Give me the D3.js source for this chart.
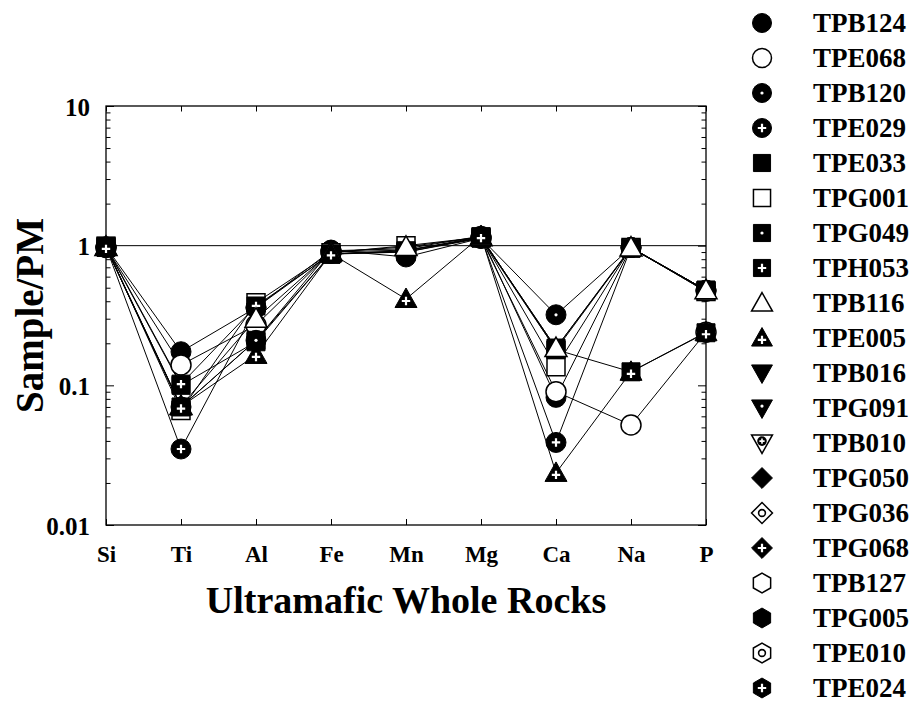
<!DOCTYPE html>
<html>
<head>
<meta charset="utf-8">
<script src="https://cdn.jsdelivr.net/npm/d3@7"></script>
<style>
  html, body { margin: 0; padding: 0; background: #fff; }
  svg { display: block; }
</style>
</head>
<body>
<svg id="chart" width="922" height="724"></svg>
<script>
// Primitive-mantle-normalised major elements
const elements = ["Si", "Ti", "Al", "Fe", "Mn", "Mg", "Ca", "Na", "P"];
const yTickValues = [0.01, 0.1, 1, 10];
const yTickLabels = ["0.01", "0.1", "1", "10"];

// Samples with analyses (values in element order above)
const TPB124 = [0.98, 0.174, 0.36, 0.92, 0.95, 1.17, 0.082, 0.97, 0.48];
const TPE068 = [0.97, 0.140, 0.27, 0.90, 0.93, 1.13, 0.090, 0.052, 0.24];
const TPB120 = [0.97, 0.070, 0.21, 0.93, 0.83, 1.13, 0.32, 0.97, 0.48];
const TPE029 = [0.98, 0.035, 0.36, 0.88, 0.90, 1.15, 0.039, 0.97, 0.47];
const TPE033 = [0.98, 0.100, 0.205, 0.87, 0.92, 1.14, 0.185, 0.96, 0.48];
const TPG001 = [0.99, 0.066, 0.39, 0.89, 1.00, 1.15, 0.136, 0.97, 0.47];
const TPG049 = [0.97, 0.070, 0.21, 0.87, 0.90, 1.13, 0.18, 0.96, 0.48];
const TPH053 = [0.99, 0.102, 0.37, 0.87, 0.92, 1.16, 0.18, 0.125, 0.238];
const TPB116 = [0.98, 0.071, 0.30, 0.90, 0.98, 1.15, 0.185, 0.97, 0.48];
const TPE005 = [0.98, 0.0705, 0.165, 0.88, 0.415, 1.17, 0.0236, 0.125, 0.24];

const plotted = [
  ["TPB124", TPB124], ["TPE068", TPE068], ["TPB120", TPB120], ["TPE029", TPE029],
  ["TPE033", TPE033], ["TPG001", TPG001], ["TPG049", TPG049], ["TPH053", TPH053],
  ["TPB116", TPB116], ["TPE005", TPE005]
];

// Full sample key
const legendNames = [
  "TPB124", "TPE068", "TPB120", "TPE029", "TPE033", "TPG001", "TPG049", "TPH053",
  "TPB116", "TPE005", "TPB016", "TPG091", "TPB010", "TPG050", "TPG036", "TPG068",
  "TPB127", "TPG005", "TPE010", "TPE024"
];

// Marker style per sample: [shape, fill style]
const markerStyle = {
  TPB124: ["circle", "solid"], TPE068: ["circle", "open"], TPB120: ["circle", "dot"], TPE029: ["circle", "plus"],
  TPE033: ["square", "solid"], TPG001: ["square", "open"], TPG049: ["square", "dot"], TPH053: ["square", "plus"],
  TPB116: ["triUp", "open"], TPE005: ["triUp", "plus"],
  TPB016: ["triDown", "solid"], TPG091: ["triDown", "dot"], TPB010: ["triDown", "ringplus"],
  TPG050: ["diamond", "solid"], TPG036: ["diamond", "ring"], TPG068: ["diamond", "plus"],
  TPB127: ["hexagon", "open"], TPG005: ["hexagon", "solid"], TPE010: ["hexagon", "ring"], TPE024: ["hexagon", "plus"]
};

const FONT = "'Liberation Serif', 'Times New Roman', serif";
const svg = d3.select("#chart");
const L = 106, R = 706, T = 106, B = 525;

const x = d3.scalePoint().domain(elements).range([L, R]);
const y = d3.scaleLog().domain([0.01, 10]).range([B, T]);

// Outline path for each marker shape, centred on 0,0
function shapePath(shape, k) {
  switch (shape) {
    case "circle": {
      const r = 10 * k;
      return `M${r},0A${r},${r} 0 1,1 ${-r},0A${r},${r} 0 1,1 ${r},0Z`;
    }
    case "square": {
      const h = 9 * k;
      return `M${-h},${-h}H${h}V${h}H${-h}Z`;
    }
    case "triUp":
      return `M0,${-11 * k}L${11 * k},${8.5 * k}L${-11 * k},${8.5 * k}Z`;
    case "triDown":
      return `M${-11 * k},${-8.5 * k}L${11 * k},${-8.5 * k}L0,${11 * k}Z`;
    case "diamond":
      return `M0,${-11 * k}L${11 * k},0L0,${11 * k}L${-11 * k},0Z`;
    case "hexagon": {
      const r = 10.5 * k;
      const pts = d3.range(6).map(i => {
        const a = (-90 + 60 * i) * Math.PI / 180;
        return [r * Math.cos(a), r * Math.sin(a)];
      });
      return "M" + pts.map(p => p.join(",")).join("L") + "Z";
    }
  }
}

// Offset of the inner mark (centroid of triangles sits off-centre)
function innerOffset(shape, k) {
  if (shape === "triUp") return 2 * k;
  if (shape === "triDown") return -2 * k;
  return 0;
}

function drawMarker(g, name, cx, cy, k) {
  const [shape, fill] = markerStyle[name];
  const m = g.append("g").attr("transform", `translate(${cx},${cy})`);
  const open = (fill === "open" || fill === "ring" || fill === "ringplus");
  m.append("path")
    .attr("d", shapePath(shape, k))
    .attr("fill", open ? "#fff" : "#000")
    .attr("stroke", "#000")
    .attr("stroke-width", open ? 1.5 : 1)
    .attr("stroke-linejoin", "miter");
  const oy = innerOffset(shape, k);
  if (fill === "dot") {
    m.append("circle").attr("cx", 0).attr("cy", oy).attr("r", 1.6).attr("fill", "#fff");
  } else if (fill === "plus") {
    const a = 4.2;
    m.append("path")
      .attr("d", `M${-a},${oy}H${a}M0,${oy - a}V${oy + a}`)
      .attr("stroke", "#fff").attr("stroke-width", 2.2).attr("fill", "none");
  } else if (fill === "ring") {
    m.append("circle").attr("cx", 0).attr("cy", oy).attr("r", 3.4)
      .attr("fill", "#fff").attr("stroke", "#000").attr("stroke-width", 1.6);
  } else if (fill === "ringplus") {
    m.append("circle").attr("cx", 0).attr("cy", oy).attr("r", 4.8).attr("fill", "#000");
    m.append("path")
      .attr("d", `M-2.6,${oy}H2.6M0,${oy - 2.6}V${oy + 2.6}`)
      .attr("stroke", "#fff").attr("stroke-width", 1.6).attr("fill", "none");
  }
}

// Minor log ticks 2..9 in each decade
const minorVals = [];
[0.01, 0.1, 1].forEach(d => { for (let i = 2; i <= 9; i++) minorVals.push(d * i); });

function styleAxis(g) {
  g.select(".domain").remove();
  g.selectAll("line").attr("stroke", "#000").attr("stroke-width", 1);
}

// Left axis with labels
const gLeft = svg.append("g").attr("transform", `translate(${L},0)`)
  .call(d3.axisLeft(y).tickValues(yTickValues).tickFormat((d, i) => yTickLabels[i])
    .tickSizeInner(-8).tickSizeOuter(0).tickPadding(16));
styleAxis(gLeft);
gLeft.selectAll("text")
  .attr("font-family", FONT).attr("font-weight", "bold").attr("font-size", 25)
  .attr("fill", "#000").attr("dy", "0.36em");

svg.append("g").attr("transform", `translate(${L},0)`)
  .call(d3.axisLeft(y).tickValues(minorVals).tickFormat("").tickSizeInner(-4.5).tickSizeOuter(0))
  .call(styleAxis);

// Right axis, ticks only
svg.append("g").attr("transform", `translate(${R},0)`)
  .call(d3.axisRight(y).tickValues(yTickValues).tickFormat("").tickSizeInner(-8).tickSizeOuter(0))
  .call(styleAxis);
svg.append("g").attr("transform", `translate(${R},0)`)
  .call(d3.axisRight(y).tickValues(minorVals).tickFormat("").tickSizeInner(-4.5).tickSizeOuter(0))
  .call(styleAxis);

// Bottom axis with element labels
const gBottom = svg.append("g").attr("transform", `translate(0,${B})`)
  .call(d3.axisBottom(x).tickSizeInner(-6).tickSizeOuter(0).tickPadding(21));
styleAxis(gBottom);
gBottom.selectAll("text")
  .attr("font-family", FONT).attr("font-weight", "bold").attr("font-size", 23).attr("fill", "#000");

// Top axis, ticks only
svg.append("g").attr("transform", `translate(0,${T})`)
  .call(d3.axisTop(x).tickFormat("").tickSizeInner(-5.5).tickSizeOuter(0))
  .call(styleAxis);

// Plot frame
svg.append("rect")
  .attr("x", L).attr("y", T).attr("width", R - L).attr("height", B - T)
  .attr("fill", "none").attr("stroke", "#000").attr("stroke-width", 1.3);

// Reference line at unity
svg.append("line")
  .attr("x1", L).attr("x2", R).attr("y1", y(1)).attr("y2", y(1))
  .attr("stroke", "#000").attr("stroke-width", 1);

// Sample patterns: all lines first, markers on top
const line = d3.line().x((d, i) => x(elements[i])).y(d => y(d));
const gLines = svg.append("g");
plotted.forEach(([name, vals]) => {
  gLines.append("path").attr("d", line(vals))
    .attr("fill", "none").attr("stroke", "#000").attr("stroke-width", 1);
});
const gMarks = svg.append("g");
plotted.forEach(([name, vals]) => {
  vals.forEach((v, i) => drawMarker(gMarks, name, x(elements[i]), y(v), 1));
});

// Axis titles
svg.append("text")
  .attr("transform", `translate(43,${(T + B) / 2}) rotate(-90)`)
  .attr("text-anchor", "middle")
  .attr("font-family", FONT).attr("font-weight", "bold").attr("font-size", 39)
  .text("Sample/PM");

svg.append("text")
  .attr("x", (L + R) / 2).attr("y", 613)
  .attr("text-anchor", "middle")
  .attr("font-family", FONT).attr("font-weight", "bold").attr("font-size", 38)
  .text("Ultramafic Whole Rocks");

// Key
const gKey = svg.append("g");
legendNames.forEach((name, i) => {
  const cy = 23 + 35 * i;
  drawMarker(gKey, name, 762, cy, 0.95);
  gKey.append("text")
    .attr("x", 813).attr("y", cy + 9)
    .attr("font-family", FONT).attr("font-weight", "bold").attr("font-size", 27)
    .text(name);
});
</script>
</body>
</html>
